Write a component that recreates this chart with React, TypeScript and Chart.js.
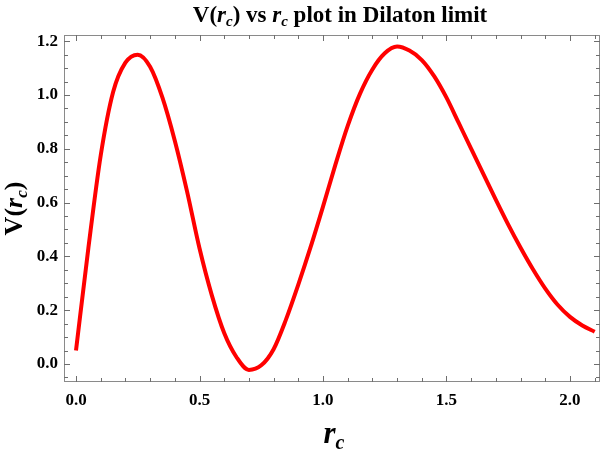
import React, { useEffect, useRef } from "react";
import { Chart, registerables } from "chart.js";

Chart.register(...registerables);

const rcValues = [
  0.0, 0.05, 0.1, 0.15, 0.2, 0.25, 0.3, 0.35, 0.4, 0.45, 0.5, 0.55, 0.6, 0.65,
  0.7, 0.75, 0.8, 0.85, 0.9, 0.95, 1.0, 1.05, 1.1, 1.15, 1.2, 1.25, 1.3, 1.35,
  1.4, 1.45, 1.5, 1.55, 1.6, 1.65, 1.7, 1.75, 1.8, 1.85, 1.9, 1.95, 2.0, 2.05,
  2.1,
];
const vValues = [
  0.05, 0.43, 0.775, 1.01, 1.12, 1.15, 1.105, 0.99, 0.83, 0.64, 0.43, 0.255,
  0.115, 0.025, -0.022, -0.005, 0.055, 0.165, 0.295, 0.435, 0.585, 0.74,
  0.885, 1.005, 1.095, 1.155, 1.18, 1.165, 1.13, 1.07, 0.99, 0.895, 0.8,
  0.705, 0.61, 0.518, 0.432, 0.352, 0.28, 0.22, 0.175, 0.143, 0.12,
];
const xMajorTicks = [0.0, 0.5, 1.0, 1.5, 2.0];
const xMinorTicks = [
  0.1, 0.2, 0.3, 0.4, 0.6, 0.7, 0.8, 0.9, 1.1, 1.2, 1.3, 1.4, 1.6, 1.7, 1.8,
  1.9, 2.1,
];
const yMajorTicks = [0.0, 0.2, 0.4, 0.6, 0.8, 1.0, 1.2];
const yMinorTicks = [
  -0.05, 0.05, 0.1, 0.15, 0.25, 0.3, 0.35, 0.45, 0.5, 0.55, 0.65, 0.7, 0.75,
  0.85, 0.9, 0.95, 1.05, 1.1, 1.15,
];

const SERIF = "'Liberation Serif', 'Times New Roman', serif";

type Seg = { t: string; f: string; dy?: number };

function richWidth(ctx: CanvasRenderingContext2D, segs: Seg[]) {
  let w = 0;
  for (const s of segs) {
    ctx.font = s.f;
    w += ctx.measureText(s.t).width;
  }
  return w;
}

function drawRich(
  ctx: CanvasRenderingContext2D,
  segs: Seg[],
  cx: number,
  baseY: number
) {
  const w = richWidth(ctx, segs);
  let x = cx - w / 2;
  ctx.textAlign = "left";
  ctx.textBaseline = "alphabetic";
  for (const s of segs) {
    ctx.font = s.f;
    ctx.fillText(s.t, x, baseY + (s.dy || 0));
    x += ctx.measureText(s.t).width;
  }
}

const framePlugin = {
  id: "mmaFrame",
  afterDatasetsDraw(chart: any) {
    const ctx: CanvasRenderingContext2D = chart.ctx;
    const { left, right, top, bottom } = chart.chartArea;
    const xs = chart.scales.x;
    const ys = chart.scales.y;
    ctx.save();
    ctx.strokeStyle = "#8a8a8a";
    ctx.lineWidth = 1;
    ctx.strokeRect(left + 0.5, top + 0.5, right - left - 1, bottom - top - 1);
    ctx.strokeStyle = "#6e6e6e";
    ctx.beginPath();
    const majL = 6;
    const minL = 4;
    const xt = (v: number, L: number) => {
      const p = Math.round(xs.getPixelForValue(v)) + 0.5;
      ctx.moveTo(p, bottom);
      ctx.lineTo(p, bottom - L);
      ctx.moveTo(p, top);
      ctx.lineTo(p, top + L);
    };
    const yt = (v: number, L: number) => {
      const p = Math.round(ys.getPixelForValue(v)) + 0.5;
      ctx.moveTo(left, p);
      ctx.lineTo(left + L, p);
      ctx.moveTo(right, p);
      ctx.lineTo(right - L, p);
    };
    xMajorTicks.forEach((v) => xt(v, majL));
    xMinorTicks.forEach((v) => xt(v, minL));
    yMajorTicks.forEach((v) => yt(v, majL));
    yMinorTicks.forEach((v) => yt(v, minL));
    ctx.stroke();
    ctx.restore();
  },
  afterDraw(chart: any) {
    const ctx: CanvasRenderingContext2D = chart.ctx;
    const { left, right, top, bottom } = chart.chartArea;
    const cx = (left + right) / 2;
    ctx.save();
    ctx.fillStyle = "#000";
    const tb = `bold 23px ${SERIF}`;
    const ti = `italic bold 23px ${SERIF}`;
    const ts = `italic bold 15px ${SERIF}`;
    drawRich(
      ctx,
      [
        { t: "V(", f: tb },
        { t: "r", f: ti },
        { t: "c", f: ts, dy: 4 },
        { t: ") vs ", f: tb },
        { t: "r", f: ti },
        { t: "c", f: ts, dy: 4 },
        { t: " plot in Dilaton limit", f: tb },
      ],
      340,
      22
    );
    // x axis title
    drawRich(
      ctx,
      [
        { t: "r", f: `italic bold 31px ${SERIF}` },
        { t: "c", f: `italic bold 20px ${SERIF}`, dy: 6 },
      ],
      cx + 2,
      443
    );
    // y axis title
    ctx.translate(22, (top + bottom) / 2);
    ctx.rotate(-Math.PI / 2);
    drawRich(
      ctx,
      [
        { t: "V(", f: `bold 26px ${SERIF}` },
        { t: "r", f: `italic bold 26px ${SERIF}` },
        { t: "c", f: `italic bold 17px ${SERIF}`, dy: 5 },
        { t: ")", f: `bold 26px ${SERIF}` },
      ],
      0,
      0
    );
    ctx.restore();
  },
};

export default function App() {
  const ref = useRef<HTMLCanvasElement | null>(null);
  useEffect(() => {
    if (!ref.current) return;
    const points = rcValues.map((x, i) => ({ x, y: vValues[i] }));
    const chart = new Chart(ref.current, {
      type: "line",
      data: {
        datasets: [
          {
            data: points,
            borderColor: "#ff0000",
            borderWidth: 4,
            pointRadius: 0,
            cubicInterpolationMode: "monotone",
            fill: false,
            borderCapStyle: "butt",
            borderJoinStyle: "round",
          },
        ],
      },
      options: {
        responsive: false,
        animation: false,
        layout: { padding: { top: 35, right: 6, left: 0, bottom: 0 } },
        plugins: {
          legend: { display: false },
          tooltip: { enabled: false },
          title: { display: false },
        },
        scales: {
          x: {
            type: "linear",
            min: -0.0486,
            max: 2.1215,
            border: { display: false },
            grid: { display: false, drawTicks: false },
            afterFit: (s: any) => {
              s.height = 70;
            },
            afterBuildTicks: (s: any) => {
              s.ticks = xMajorTicks.map((v) => ({ value: v }));
            },
            ticks: {
              padding: 8,
              color: "#000",
              font: { family: SERIF, size: 17, weight: "bold" },
              callback: (v: any) => Number(v).toFixed(1),
              maxRotation: 0,
              autoSkip: false,
            },
          },
          y: {
            type: "linear",
            min: -0.067,
            max: 1.223,
            border: { display: false },
            grid: { display: false, drawTicks: false },
            afterFit: (s: any) => {
              s.width = 64;
            },
            afterBuildTicks: (s: any) => {
              s.ticks = yMajorTicks.map((v) => ({ value: v }));
            },
            ticks: {
              padding: 6,
              color: "#000",
              font: { family: SERIF, size: 17, weight: "bold" },
              callback: (v: any) => Number(v).toFixed(1),
              autoSkip: false,
            },
          },
        },
      },
      plugins: [framePlugin],
    } as any);
    return () => chart.destroy();
  }, []);
  return (
    <div
      style={{
        position: "absolute",
        left: 0,
        top: 0,
        width: 606,
        height: 452,
        background: "#fff",
      }}
    >
      <canvas ref={ref} width={606} height={452} />
    </div>
  );
}
